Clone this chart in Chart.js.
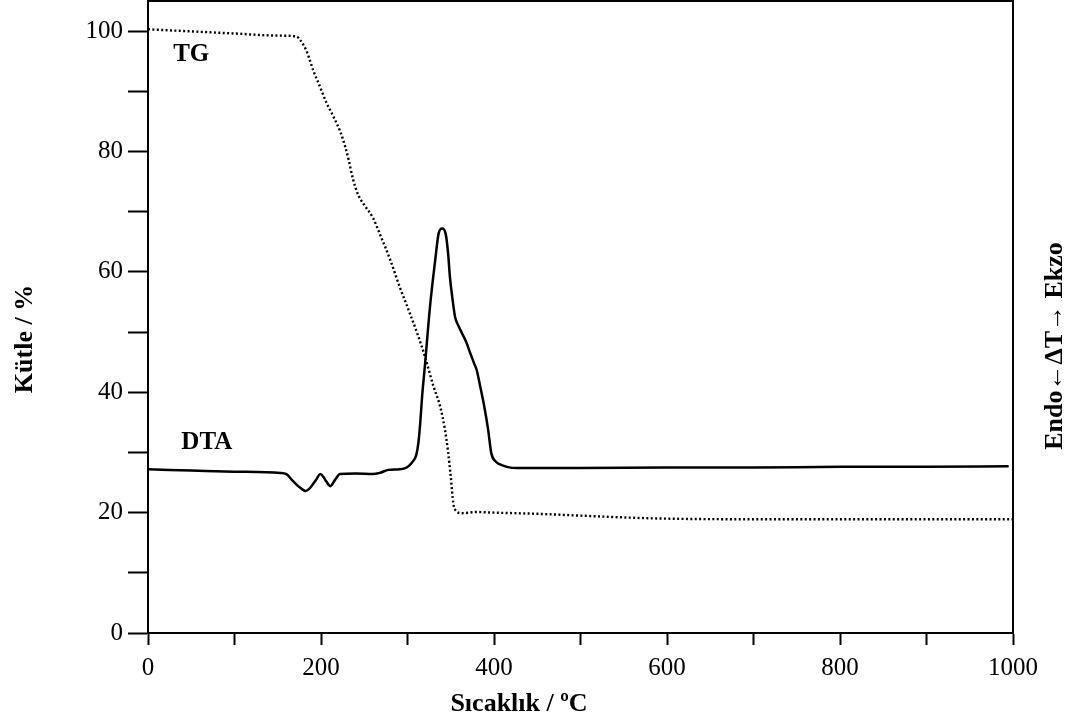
<!DOCTYPE html>
<html>
<head>
<meta charset="utf-8">
<script src="https://cdn.jsdelivr.net/npm/chart.js@4.4.1/dist/chart.umd.min.js"></script>
<style>
  html, body { margin: 0; padding: 0; background: #fff; }
  canvas { display: block; }
</style>
</head>
<body>
<canvas id="grafico" width="1068" height="722"></canvas>
<script>
// TG (kütle %) okunan noktalar
const tgSicaklik = [0, 50, 100, 150, 172, 176, 183, 187, 191, 199, 206, 214, 222, 228, 232, 237, 243, 251, 260, 268, 280, 291, 303, 312, 320, 330, 338, 343, 347, 350, 353, 357, 362, 380, 400, 450, 500, 550, 600, 700, 800, 900, 1000];
const tgKutle = [100.3, 99.95, 99.6, 99.25, 99.1, 98.5, 96.8, 95.2, 93.5, 90.7, 88.2, 85.9, 83.4, 80.8, 78.6, 75.4, 72.8, 70.9, 69.0, 66.3, 62.0, 57.5, 53.0, 49.5, 46.0, 41.0, 37.5, 34.0, 30.0, 26.0, 21.5, 20.2, 19.9, 20.1, 20.0, 19.8, 19.5, 19.2, 19.0, 18.9, 18.9, 18.9, 18.9];

// DTA (birimsiz, ayni eksene oturtulmus)
const dtaSicaklik = [0, 50, 100, 153, 160, 166, 172, 178, 182, 186, 190, 195, 199, 203, 206, 211, 216, 222, 240, 260, 268, 278, 291, 299, 305, 310, 312.5, 314.5, 317, 320, 326, 332, 336, 340, 344, 347, 349, 352, 355, 359, 363, 368, 372, 377, 380, 384, 388, 393, 397, 402, 407, 415, 426, 450, 500, 600, 700, 800, 900, 995];
const dtaDeger = [27.2, 27.0, 26.8, 26.6, 26.4, 25.5, 24.6, 23.9, 23.6, 23.9, 24.6, 25.6, 26.4, 25.9, 25.2, 24.4, 25.4, 26.4, 26.5, 26.4, 26.6, 27.1, 27.2, 27.5, 28.3, 29.5, 31.5, 34.5, 39.5, 44.2, 54.2, 61.9, 66.4, 67.2, 66.4, 63.0, 59.2, 55.5, 52.5, 51.0, 49.8, 48.3, 46.7, 44.8, 43.7, 41.0, 38.2, 34.0, 29.8, 28.5, 28.0, 27.6, 27.4, 27.4, 27.4, 27.5, 27.5, 27.6, 27.6, 27.7];

const xTickAdim = 100;
const xEtiketAdim = 200;
const yTickAdim = 10;
const yEtiketAdim = 20;

const SERIF = '"Liberation Serif", "Times New Roman", serif';

function noktalar(xs, ys) {
  return xs.map((x, i) => ({ x: x, y: ys[i] }));
}

const yazilar = {
  id: 'yazilar',
  afterDraw(chart) {
    const ctx = chart.ctx;
    const a = chart.chartArea;
    const sx = chart.scales.x;
    const sy = chart.scales.y;
    ctx.save();
    // ust ve sag cerceve
    ctx.strokeStyle = '#000';
    ctx.lineWidth = 2;
    ctx.beginPath();
    ctx.moveTo(a.left, a.top);
    ctx.lineTo(a.right, a.top);
    ctx.lineTo(a.right, a.bottom);
    ctx.stroke();

    ctx.fillStyle = '#000';
    ctx.textAlign = 'center';
    ctx.textBaseline = 'alphabetic';
    ctx.font = 'bold 25px ' + SERIF;
    ctx.fillText('TG', sx.getPixelForValue(50), sy.getPixelForValue(95));
    ctx.fillText('DTA', sx.getPixelForValue(68), sy.getPixelForValue(30.5));

    ctx.font = 'bold 26px ' + SERIF;
    ctx.fillText('Sıcaklık / ºC', 519, 711);

    ctx.save();
    ctx.translate(32, 339);
    ctx.rotate(-Math.PI / 2);
    ctx.fillText('Kütle / %', 0, 0);
    ctx.restore();

    ctx.save();
    ctx.translate(1062, 346);
    ctx.rotate(-Math.PI / 2);
    ctx.font = 'bold 26px ' + SERIF;
    ctx.fillText('Endo\u2190\u0394T\u2192 Ekzo', 0, 0);
    ctx.restore();

    ctx.restore();
  }
};

const ctx = document.getElementById('grafico').getContext('2d');
const grafico = new Chart(ctx, {
  type: 'line',
  data: {
    datasets: [
      {
        label: 'TG',
        data: noktalar(tgSicaklik, tgKutle),
        borderColor: '#000',
        borderWidth: 2.4,
        borderDash: [2, 2.4],
        pointRadius: 0,
        cubicInterpolationMode: 'monotone',
        fill: false,
        yAxisID: 'y'
      },
      {
        label: 'DTA',
        data: noktalar(dtaSicaklik, dtaDeger),
        borderColor: '#000',
        borderWidth: 2.5,
        pointRadius: 0,
        cubicInterpolationMode: 'monotone',
        fill: false,
        yAxisID: 'y2'
      }
    ]
  },
  options: {
    responsive: false,
    devicePixelRatio: 1,
    animation: false,
    layout: { padding: { top: 1, right: 55, left: 0, bottom: 0 } },
    plugins: {
      legend: { display: false },
      tooltip: { enabled: false }
    },
    scales: {
      x: {
        type: 'linear',
        min: 0,
        max: 1000,
        afterFit: s => { s.height = 89; s.paddingLeft = 0; s.paddingRight = 0; },
        border: { display: true, color: '#000', width: 2 },
        grid: { drawOnChartArea: false, drawTicks: true, tickLength: 12, tickColor: '#000', tickWidth: 2 },
        ticks: {
          stepSize: xTickAdim,
          autoSkip: false,
          maxRotation: 0,
          padding: 8,
          color: '#000',
          font: { family: SERIF, size: 25 },
          callback: v => (v % xEtiketAdim === 0 ? String(v) : '')
        }
      },
      y: {
        min: 0,
        max: 105,
        afterFit: s => { s.width = 148; s.paddingTop = 0; s.paddingBottom = 0; },
        border: { display: true, color: '#000', width: 2 },
        grid: { drawOnChartArea: false, drawTicks: true, tickLength: 20, tickColor: '#000', tickWidth: 2 },
        ticks: {
          stepSize: yTickAdim,
          includeBounds: false,
          autoSkip: false,
          padding: 5,
          color: '#000',
          font: { family: SERIF, size: 25 },
          callback: v => (v % yEtiketAdim === 0 ? String(v) : '')
        }
      },
      y2: {
        display: false,
        min: 0,
        max: 105
      }
    }
  },
  plugins: [yazilar]
});
</script>
</body>
</html>
